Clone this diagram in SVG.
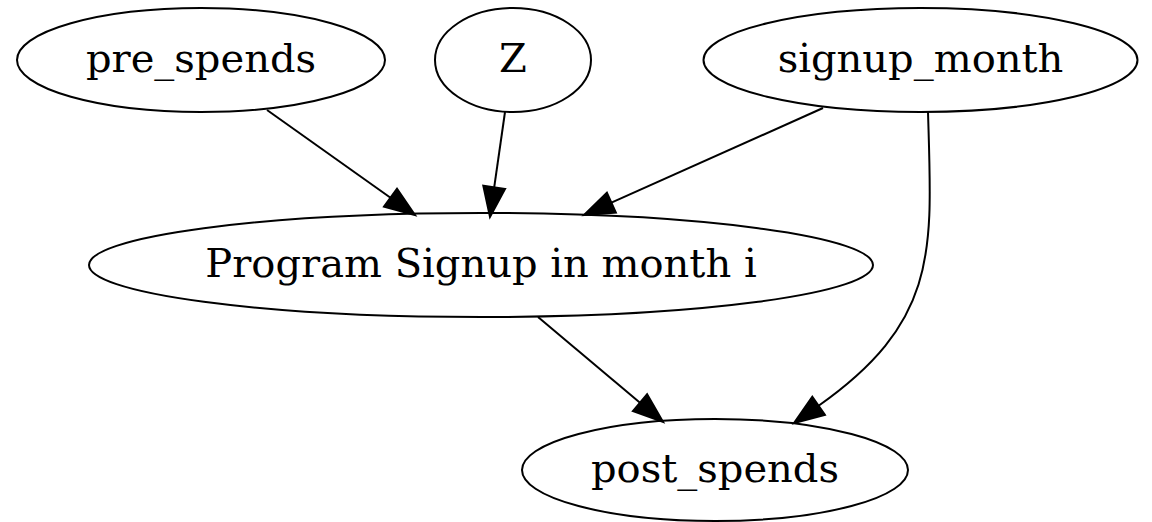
<svg xmlns="http://www.w3.org/2000/svg" width="1152" height="522" viewBox="0 0 1152 522">
<style>
.node ellipse{fill:none;stroke:#000;stroke-width:2}
.node text{font-family:"DejaVu Serif",serif;font-size:40px;fill:#000;text-anchor:middle}
.edge path{fill:none;stroke:#000;stroke-width:2}
.edge polygon{fill:#000;stroke:#000;stroke-width:2}
</style>
<rect width="1152" height="522" fill="#fff"/>
<g id="connectors">
<g class="edge" id="e1"><path d="M267,110 L390.5,197.7"/><polygon points="384,206.7 397,188.7 415,215"/></g>
<g class="edge" id="e2"><path d="M505,112 L494.2,187.3"/><polygon points="505.1,188.9 483.3,185.7 490,217"/></g>
<g class="edge" id="e3"><path d="M823,108 L611.4,202.7"/><polygon points="615.9,212.7 606.9,192.7 584,215"/></g>
<g class="edge" id="e4"><path d="M538,317 L640,402.7"/><polygon points="632.9,411.1 647.1,394.3 663,422"/></g>
<g class="edge" id="e5"><path d="M928,112 C932,250 940,320 818.6,405.8"/><polygon points="824.9,414.8 812.3,396.8 794,423"/></g>
</g>
<g class="node" id="pre_spends"><ellipse cx="201" cy="60" rx="184" ry="52"/><text x="201" y="71.5">pre_spends</text></g>
<g class="node" id="Z"><ellipse cx="513" cy="60" rx="78" ry="52"/><text x="513" y="71.5">Z</text></g>
<g class="node" id="signup_month"><ellipse cx="920.5" cy="60" rx="217" ry="52"/><text x="920.5" y="71.5">signup_month</text></g>
<g class="node" id="program"><ellipse cx="481" cy="265" rx="392" ry="52"/><text x="481" y="276.5">Program Signup in month i</text></g>
<g class="node" id="post_spends"><ellipse cx="715" cy="470" rx="193" ry="51"/><text x="715" y="481.5">post_spends</text></g>
</svg>
